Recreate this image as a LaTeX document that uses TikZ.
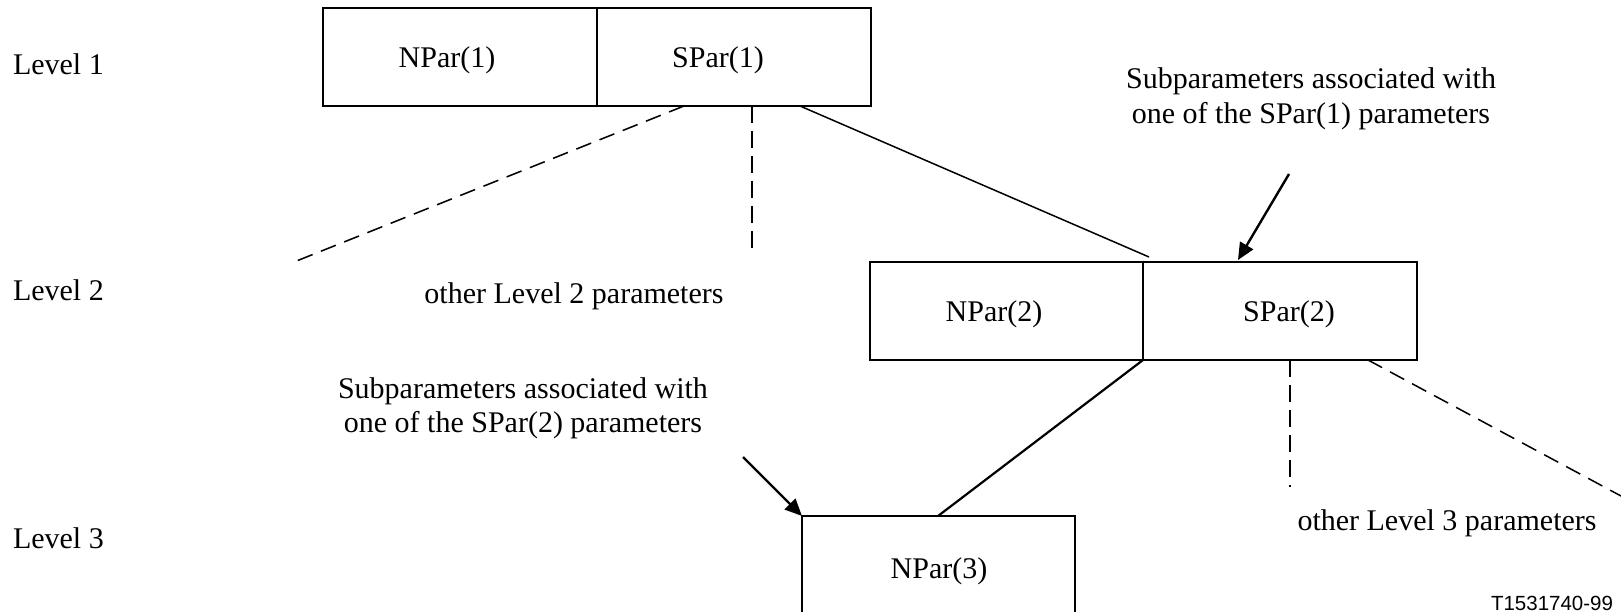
\documentclass[tikz,border=0pt]{standalone}
\usepackage{fontspec}
\setmainfont{Liberation Serif}
\newfontfamily\arialfont{Liberation Sans}
\usetikzlibrary{arrows.meta}
\begin{document}
\begin{tikzpicture}[x=1pt,y=-1pt,
  every node/.style={inner sep=0pt, outer sep=0pt, font=\fontsize{30}{34.5}\selectfont},
  box/.style={draw, line width=1.8pt, anchor=north west, minimum height=98pt},
  txt/.style={anchor=base},
  thinline/.style={line width=1.5pt},
  thickline/.style={line width=2.2pt},
  dashthin/.style={line width=1.5pt, dash pattern=on 16pt off 9pt},
  dashthick/.style={line width=2.3pt, dash pattern=on 17pt off 8pt},
  arr/.style={line width=2.4pt, -{Triangle[length=17pt,width=15pt]}}]
\useasboundingbox (0,0) rectangle (1621,612);

% level labels
\node[anchor=base west] (lv1) at (13,75) {Level 1};
\node[anchor=base west] (lv2) at (13,300) {Level 2};
\node[anchor=base west] (lv3) at (13,548) {Level 3};

% boxes
\node[box, minimum width=274pt] (np1) at (323,8) {};
\node[box, minimum width=274pt] (sp1) at (597,8) {};
\node[box, minimum width=273pt] (np2) at (870,262) {};
\node[box, minimum width=274pt] (sp2) at (1143,262) {};
\node[box, minimum width=273pt, minimum height=110pt] (np3) at (802,516) {};

% box texts
\node[txt] (tnp1) at (447,68) {NPar(1)};
\node[txt] (tsp1) at (718,68) {SPar(1)};
\node[txt] (tnp2) at (994,321) {NPar(2)};
\node[txt] (tsp2) at (1289,321) {SPar(2)};
\node[txt] (tnp3) at (939,578) {NPar(3)};

% other texts
\node[txt] (oth2) at (574,303) {other Level 2 parameters};
\node[txt] (oth3) at (1447,530) {other Level 3 parameters};
\node[txt] (sub1) at (1311,89) {\begin{tabular}[t]{@{}c@{}}Subparameters associated with\\one of the SPar(1) parameters\end{tabular}};
\node[txt] (sub2) at (523,398) {\begin{tabular}[t]{@{}c@{}}Subparameters associated with\\one of the SPar(2) parameters\end{tabular}};
\node[anchor=base east, font=\arialfont\fontsize{20.5}{24}\selectfont] (ref) at (1613,610) {T1531740-99};

% free ends
\coordinate (e1) at (294,262);
\coordinate (e2) at (752,252);
\coordinate (e3) at (1290,487);
\coordinate (e4) at (1621,496);
\coordinate (a1) at (1289,174);
\coordinate (a2) at (743,457);

% connectors
\draw[dashthin] ([xshift=87pt]sp1.south west) -- (e1);
\draw[dashthick] ([xshift=155pt]sp1.south west) -- (e2);
\draw[thinline] ([xshift=203pt]sp1.south west) -- ([xshift=6pt,yshift=5pt]sp2.north west);
\draw[arr] (a1) -- ([xshift=95pt,yshift=2pt]sp2.north west);
\draw[thickline] (sp2.south west) -- ([xshift=136pt]np3.north west);
\draw[dashthick] ([xshift=147pt]sp2.south west) -- (e3);
\draw[dashthin] ([xshift=225pt]sp2.south west) -- (e4);
\draw[arr] (a2) -- (np3.north west);
\end{tikzpicture}
\end{document}
